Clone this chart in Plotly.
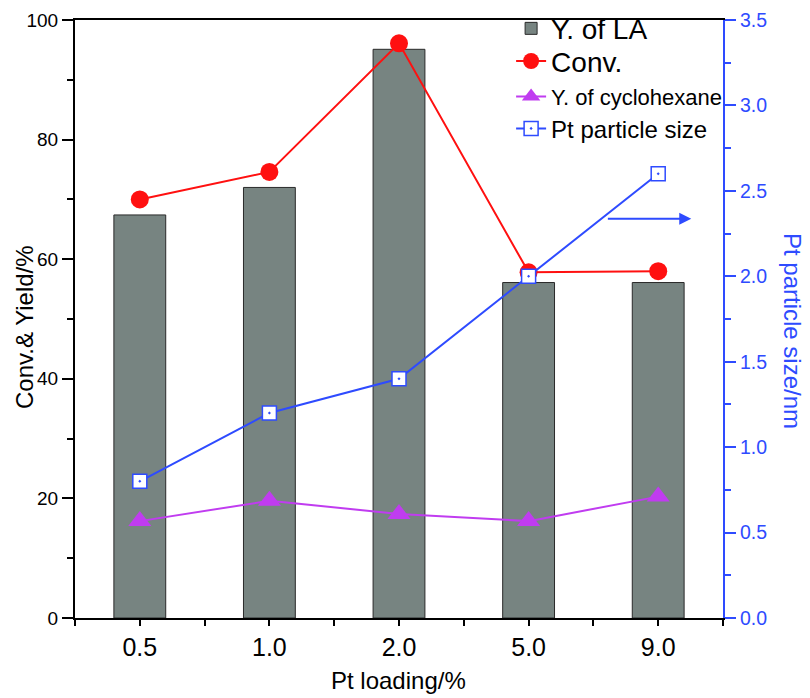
import plotly.graph_objects as go

categories = ["0.5", "1.0", "2.0", "5.0", "9.0"]
x_pos = [0, 1, 2, 3, 4]
yield_la = [67.4, 72.0, 95.1, 56.1, 56.1]
conv = [70.0, 74.6, 96.1, 57.8, 58.0]
yield_cyclohexane = [16.2, 19.6, 17.4, 16.2, 20.3]
pt_size = [0.8, 1.2, 1.4, 2.0, 2.6]

FONT = "Arial, Liberation Sans, sans-serif"
BLUE = "#2E4BFF"
RED = "#FF1010"
MAG = "#C03CF0"
BAR = "#778481"

fig = go.Figure()
fig.add_trace(go.Bar(x=x_pos, y=yield_la, name="Y. of LA", width=0.4,
                     marker=dict(color=BAR, line=dict(color="#2a2a2a", width=1)),
                     legend="legend"))
fig.add_trace(go.Scatter(x=x_pos, y=conv, name="Conv.", mode="lines+markers",
                         line=dict(color=RED, width=2),
                         marker=dict(symbol="circle", size=18, color=RED),
                         legend="legend2"))
fig.add_trace(go.Scatter(x=x_pos, y=yield_cyclohexane, name="Y. of cyclohexane",
                         mode="lines+markers", line=dict(color=MAG, width=2),
                         marker=dict(symbol="triangle-up", size=20, color=MAG),
                         legend="legend3"))
fig.add_trace(go.Scatter(x=x_pos, y=pt_size, name="Pt particle size", yaxis="y2",
                         mode="lines+markers", line=dict(color=BLUE, width=2),
                         marker=dict(symbol="square-dot", size=14, color="white",
                                     line=dict(color=BLUE, width=1.5)),
                         legend="legend4"))

fig.add_annotation(x=4.255, y=2.337, ax=3.6, ay=2.337, xref="x", yref="y2",
                   axref="x", ayref="y2", showarrow=True, arrowhead=2,
                   arrowsize=1.2, arrowwidth=2, arrowcolor=BLUE, text="")

fig.add_annotation(x=1.1065, y=0.48, xref="paper", yref="paper",
                   xanchor="center", yanchor="middle",
                   text="Pt particle size/nm", textangle=90, showarrow=False,
                   font=dict(family=FONT, size=24, color=BLUE))
fig.add_annotation(x=-0.0787, y=0.4866, xref="paper", yref="paper",
                   xanchor="center", yanchor="middle",
                   text="Conv.& Yield/%", textangle=-90, showarrow=False,
                   font=dict(family=FONT, size=24, color="black"))
fig.add_annotation(x=0.4985, y=-0.1037, xref="paper", yref="paper",
                   xanchor="center", yanchor="middle",
                   text="Pt loading/%", showarrow=False,
                   font=dict(family=FONT, size=24, color="black"))

def leg(y, size):
    return dict(x=0.673, y=y, xanchor="left", yanchor="middle",
                bgcolor="rgba(0,0,0,0)", borderwidth=0,
                font=dict(family=FONT, size=size, color="black"),
                itemwidth=30)

fig.update_layout(
    width=802, height=690,
    margin=dict(l=67, r=87, t=12, b=80, autoexpand=False),
    paper_bgcolor="white", plot_bgcolor="white",
    font=dict(family=FONT, size=20, color="black"),
    showlegend=True,
    legend=leg(0.9855, 28),
    legend2=leg(0.9309, 28),
    legend3=leg(0.8717, 22),
    legend4=leg(0.8181, 24),
    xaxis=dict(range=[-0.5, 4.5], tickvals=x_pos, ticktext=categories,
               automargin=False, ticklabeloverflow="allow",
               ticks="outside", ticklen=6, tickwidth=2, tickcolor="black",
               showline=True, linecolor="black", linewidth=2, mirror=True,
               showgrid=False, zeroline=False,
               minor=dict(tickvals=[-0.5, 0.5, 1.5, 2.5, 3.5, 4.5], ticks="outside",
                          ticklen=6, tickwidth=2, tickcolor="black"),
               tickfont=dict(size=25)),
    yaxis=dict(range=[0, 100], dtick=20, ticks="outside", ticklen=11, tickwidth=2,
               automargin=False, ticklabeloverflow="allow",
               tickcolor="black", showline=True, linecolor="black", linewidth=2,
               showgrid=False, zeroline=False,
               minor=dict(dtick=10, ticks="outside", ticklen=6, tickwidth=2,
                          tickcolor="black"),
               tickfont=dict(size=19)),
    yaxis2=dict(range=[0, 3.5], dtick=0.5, tickformat=".1f", overlaying="y",
                automargin=False, ticklabeloverflow="allow",
                side="right", ticks="outside", ticklen=11, tickwidth=2,
                tickcolor=BLUE, showline=True, linecolor=BLUE, linewidth=2,
                showgrid=False, zeroline=False,
                minor=dict(dtick=0.25, ticks="outside", ticklen=6, tickwidth=2,
                           tickcolor=BLUE),
                tickfont=dict(size=19.5, color=BLUE)),
)

fig.write_html("out.html")
